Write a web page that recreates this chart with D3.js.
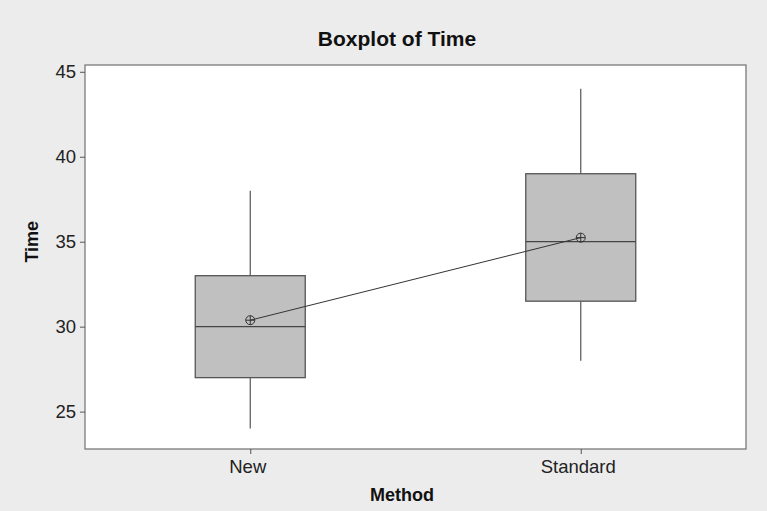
<!DOCTYPE html>
<html>
<head>
<meta charset="utf-8">
<script src="https://cdn.jsdelivr.net/npm/d3@7"></script>
<style>
  body { margin: 0; background: #ececec; }
  svg { display: block; font-family: "Liberation Sans", Arial, sans-serif; }
</style>
</head>
<body>
<div id="chart"></div>
<script>
// data
const methods = ['New', 'Standard'];
const whiskerLow = [24, 28];
const q1 = [27, 31.5];
const medians = [30, 35];
const q3 = [33, 39];
const whiskerHigh = [38, 44];
const means = [30.38, 35.24];
const yTicks = [25, 30, 35, 40, 45];

const width = 767, height = 511;
const margin = { top: 65, right: 21, bottom: 62, left: 85 };
const innerW = width - margin.left - margin.right;
const innerH = height - margin.top - margin.bottom;

const svg = d3.select('#chart').append('svg')
    .attr('width', width)
    .attr('height', height);

svg.append('rect')
    .attr('width', width)
    .attr('height', height)
    .attr('fill', '#ececec');

const x = d3.scalePoint()
    .domain(methods)
    .range([0, innerW])
    .padding(0.5);

const y = d3.scaleLinear()
    .domain([22.8, 45.4])
    .range([innerH, 0]);

const chart = svg.append('g')
    .attr('transform', `translate(${margin.left},${margin.top})`);

chart.append('rect')
    .attr('width', innerW)
    .attr('height', innerH)
    .attr('fill', '#fff')
    .attr('stroke', '#7a7a7a')
    .attr('stroke-width', 1.3);

// axes
const yAxis = d3.axisLeft(y).tickValues(yTicks).tickSize(5).tickPadding(4);
const yG = chart.append('g').call(yAxis);
yG.select('.domain').remove();
yG.selectAll('line').attr('stroke', '#555');
yG.selectAll('text').attr('font-size', 18.5).attr('fill', '#222');

const xAxis = d3.axisBottom(x).tickSize(5).tickPadding(6);
const xG = chart.append('g')
    .attr('transform', `translate(0,${innerH})`)
    .call(xAxis);
xG.select('.domain').remove();
xG.selectAll('line').attr('stroke', '#555');
xG.selectAll('text').attr('font-size', 18.5).attr('fill', '#222')
    .attr('dx', -3);

const boxW = 110;
const data = methods.map((m, i) => ({
    m, lo: whiskerLow[i], q1: q1[i], med: medians[i], q3: q3[i], hi: whiskerHigh[i], mean: means[i]
}));

const boxes = chart.append('g').selectAll('g')
    .data(data)
    .enter()
    .append('g')
    .attr('transform', d => `translate(${x(d.m)},0)`);

boxes.append('line')
    .attr('y1', d => y(d.hi)).attr('y2', d => y(d.q3))
    .attr('stroke', '#555').attr('stroke-width', 1.2);
boxes.append('line')
    .attr('y1', d => y(d.q1)).attr('y2', d => y(d.lo))
    .attr('stroke', '#555').attr('stroke-width', 1.2);
boxes.append('rect')
    .attr('x', -boxW / 2)
    .attr('width', boxW)
    .attr('y', d => y(d.q3))
    .attr('height', d => y(d.q1) - y(d.q3))
    .attr('fill', '#c0c0c0')
    .attr('stroke', '#555')
    .attr('stroke-width', 1.3);
boxes.append('line')
    .attr('x1', -boxW / 2).attr('x2', boxW / 2)
    .attr('y1', d => y(d.med)).attr('y2', d => y(d.med))
    .attr('stroke', '#444').attr('stroke-width', 1.3);

// mean connect line
chart.append('path')
    .datum(data)
    .attr('fill', 'none')
    .attr('stroke', '#333')
    .attr('stroke-width', 1)
    .attr('d', d3.line().x(d => x(d.m)).y(d => y(d.mean)));

// mean symbols: circle with cross
const r = 4.5;
const sym = chart.append('g').selectAll('g')
    .data(data)
    .enter()
    .append('g')
    .attr('transform', d => `translate(${x(d.m)},${y(d.mean)})`);
sym.append('circle').attr('r', r).attr('fill', 'none').attr('stroke', '#333').attr('stroke-width', 1);
sym.append('line').attr('x1', -r).attr('x2', r).attr('stroke', '#333').attr('stroke-width', 1);
sym.append('line').attr('y1', -r).attr('y2', r).attr('stroke', '#333').attr('stroke-width', 1);

// labels
svg.append('text')
    .attr('x', 397)
    .attr('y', 46)
    .attr('text-anchor', 'middle')
    .attr('font-size', 21)
    .attr('font-weight', 'bold')
    .attr('fill', '#111')
    .text('Boxplot of Time');

svg.append('text')
    .attr('transform', `translate(38,${margin.top + y(35)}) rotate(-90)`)
    .attr('text-anchor', 'middle')
    .attr('font-size', 18)
    .attr('font-weight', 'bold')
    .attr('fill', '#111')
    .text('Time');

svg.append('text')
    .attr('x', 402)
    .attr('y', 501)
    .attr('text-anchor', 'middle')
    .attr('font-size', 18)
    .attr('font-weight', 'bold')
    .attr('fill', '#111')
    .text('Method');
</script>
</body>
</html>
